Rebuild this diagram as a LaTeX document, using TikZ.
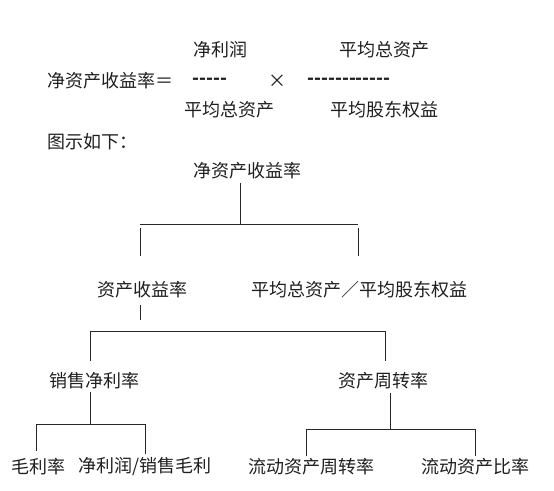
\documentclass[tikz,border=0pt]{standalone}
\usepackage{fontspec}
\setmainfont{Noto Sans CJK SC}
\newfontfamily\dashfont{Noto Sans CJK SC}[Ligatures=TeXOff]
\begin{document}
\begin{tikzpicture}[x=1pt,y=-1pt,
  txt/.style={inner sep=0pt, anchor=center, font=\fontsize{18}{20}\selectfont, text=black!88},
  dsh/.style={txt, font=\dashfont\bfseries\fontsize{18}{20}\selectfont},
  ln/.style={line width=0.8pt, draw=black!85}]
\useasboundingbox (0,0) rectangle (554,490);
% formula
\node[txt] (num1) at (220,50) {净利润};
\node[txt] (num2) at (384,50) {平均总资产};
\node[txt, anchor=west] (lhs) at (47,81) {净资产收益率＝};
\node[dsh] (bar1) at (210,81) {-----};
\node[txt] (times) at (277,81) {×};
\node[dsh] (bar2) at (349,81) {------------};
\node[txt] (den1) at (229,110) {平均总资产};
\node[txt] (den2) at (384,110) {平均股东权益};
\node[txt, anchor=west] (fig) at (47,142) {图示如下：};
% tree
\node[txt] (root) at (247,171) {净资产收益率};
\node[txt] (roa) at (142,290) {资产收益率};
\node[txt] (lev) at (359,290) {平均总资产／平均股东权益};
\node[txt] (npm) at (94,381) {销售净利率};
\node[txt] (tat) at (383,381) {资产周转率};
\node[txt] (gpm) at (38,467) {毛利率};
\node[txt] (ratio) at (145,467) {净利润/销售毛利};
\node[txt] (cat) at (311,467) {流动资产周转率};
\node[txt] (car) at (475,467) {流动资产比率};
% junction coordinates
\coordinate (j1t) at (240,183);
\coordinate (j1) at (240,224);
\coordinate (j1l) at (140,224);
\coordinate (j1r) at (358,224);
\coordinate (d1l) at (140,228);
\coordinate (d1le) at (140,256);
\coordinate (d1r) at (358,228);
\coordinate (d1re) at (358,256);
\coordinate (j2t) at (140,305);
\coordinate (j2b) at (140,320);
\coordinate (j2l) at (90,331);
\coordinate (j2r) at (385,331);
\coordinate (d2le) at (90,361);
\coordinate (d2re) at (385,361);
\coordinate (j3t) at (90,392);
\coordinate (j3) at (90,424);
\coordinate (j3l) at (36,424);
\coordinate (j3r) at (145,424);
\coordinate (d3le) at (36,451);
\coordinate (d3re) at (145,454);
\coordinate (j4t) at (390,393);
\coordinate (j4) at (390,429);
\coordinate (j4l) at (306,429);
\coordinate (j4r) at (475,429);
\coordinate (d4le) at (306,456);
\coordinate (d4re) at (475,456);
% connectors
\draw[ln] (j1t) -- (j1);
\draw[ln] (j1l) -- (j1r);
\draw[ln] (d1l) -- (d1le);
\draw[ln] (d1r) -- (d1re);
\draw[ln] (j2t) -- (j2b);
\draw[ln] (d2le) -- (j2l) -- (j2r) -- (d2re);
\draw[ln] (j3t) -- (j3);
\draw[ln] (d3le) -- (j3l) -- (j3r) -- (d3re);
\draw[ln] (j4t) -- (j4);
\draw[ln] (d4le) -- (j4l) -- (j4r) -- (d4re);
\end{tikzpicture}
\end{document}
